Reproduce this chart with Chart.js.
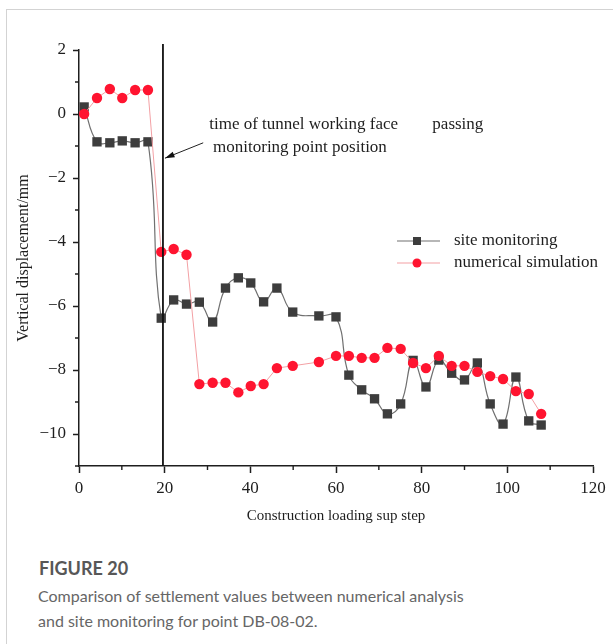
<!DOCTYPE html>
<html>
<head>
<meta charset="utf-8">
<script src="https://cdn.jsdelivr.net/npm/chart.js@4.4.1/dist/chart.umd.min.js"></script>
<style>
  body { margin: 0; background: #fff; overflow: hidden; }
  .card { position: absolute; left: 6px; top: 9px; width: 640px; height: 660px; border: 1px solid #d3d3d3; }
  #wrap { position: absolute; left: 0; top: 0; width: 613px; height: 540px; }
  .fig { position: absolute; left: 39px; top: 556px; font-family: Lato, sans-serif; color: #575757; font-size: 18px; font-weight: bold; line-height: 24px; }
  .cap { position: absolute; left: 38px; top: 583px; font-family: Lato, sans-serif; color: #666; font-size: 16px; line-height: 25px; width: 560px; }
</style>
</head>
<body>
<div class="card"></div>
<div id="wrap"><canvas id="chart" width="613" height="540"></canvas></div>
<div class="fig">FIGURE 20</div>
<div class="cap">Comparison of settlement values between numerical analysis<br>and site monitoring for point DB-08-02.</div>
<script>
// construction loading sub steps (x) and vertical displacement (mm)
const steps = [1.2, 4.2, 7.2, 10.1, 13.1, 16.1, 19.2, 22.1, 25.1, 28.1, 31.2, 34.2, 37.2, 40.1, 43.1, 46.2, 49.9,
  56, 60, 63, 66, 69, 72, 75.1, 78, 81, 84, 87, 90, 93, 96, 99, 102, 105, 107.9];
const siteMonitoring = [0.22, -0.87, -0.9, -0.84, -0.9, -0.87, -6.38, -5.81, -5.94, -5.88, -6.5, -5.44, -5.12, -5.28,
  -5.87, -5.44, -6.19, -6.31, -6.34, -8.16, -8.62, -8.9, -9.37, -9.06, -7.7, -8.53, -7.69, -8.1, -8.31, -7.78,
  -9.06, -9.69, -8.22, -9.59, -9.72];
const numericalSim = [0, 0.5, 0.78, 0.5, 0.75, 0.75, -4.31, -4.22, -4.4, -8.44, -8.4, -8.4, -8.7, -8.5,
  -8.44, -7.94, -7.87, -7.75, -7.56, -7.56, -7.62, -7.62, -7.31, -7.34, -7.78, -7.94, -7.56, -7.87, -7.87, -8.06,
  -8.19, -8.28, -8.66, -8.75, -9.37];

const xTicks = [0, 20, 40, 60, 80, 100, 120];
const xMinor = [10, 30, 50, 70, 90, 110];
const yTicks = [-10, -8, -6, -4, -2, 0, 2];
const yMinor = [-11, -9, -7, -5, -3, -1, 1];

const facePassStep = 19.6;
const noteLines = ['time of tunnel working face', 'passing', 'monitoring point position'];

const serif = 'Liberation Serif, Times New Roman, serif';
const ink = '#1e1e1e';
const fmt = v => (v < 0 ? '\u2212' + Math.abs(v) : String(v));

const extras = {
  id: 'extras',
  afterDraw(chart) {
    const { ctx, chartArea: a, scales: { x, y } } = chart;
    ctx.save();
    ctx.strokeStyle = ink;
    ctx.lineWidth = 1.4;
    ctx.beginPath();
    xMinor.forEach(v => {
      const px = x.getPixelForValue(v);
      ctx.moveTo(px, a.bottom);
      ctx.lineTo(px, a.bottom + 4);
    });
    yMinor.forEach(v => {
      const py = y.getPixelForValue(v);
      ctx.moveTo(a.left, py);
      ctx.lineTo(a.left - 4, py);
    });
    ctx.stroke();

    // working face passing line
    const fx = x.getPixelForValue(facePassStep);
    ctx.lineWidth = 1.8;
    ctx.strokeStyle = '#111';
    ctx.beginPath();
    ctx.moveTo(fx, a.top - 6);
    ctx.lineTo(fx, a.bottom);
    ctx.stroke();

    // arrow to the line
    const x0 = x.getPixelForValue(29), y0 = y.getPixelForValue(-0.9);
    const x1 = fx + 2, y1 = y.getPixelForValue(-1.38);
    const ang = Math.atan2(y1 - y0, x1 - x0);
    ctx.lineWidth = 1;
    ctx.strokeStyle = '#222';
    ctx.beginPath();
    ctx.moveTo(x0, y0);
    ctx.lineTo(x1, y1);
    ctx.stroke();
    ctx.fillStyle = '#111';
    ctx.beginPath();
    ctx.moveTo(x1, y1);
    ctx.lineTo(x1 - 10 * Math.cos(ang - 0.3), y1 - 10 * Math.sin(ang - 0.3));
    ctx.lineTo(x1 - 10 * Math.cos(ang + 0.3), y1 - 10 * Math.sin(ang + 0.3));
    ctx.closePath();
    ctx.fill();

    ctx.font = '17px ' + serif;
    ctx.fillStyle = ink;
    ctx.textBaseline = 'middle';
    ctx.fillText(noteLines[0], x.getPixelForValue(30.4), y.getPixelForValue(-0.34));
    ctx.textAlign = 'right';
    ctx.fillText(noteLines[1], x.getPixelForValue(94.4), y.getPixelForValue(-0.34));
    ctx.textAlign = 'left';
    ctx.fillText(noteLines[2], x.getPixelForValue(31.3), y.getPixelForValue(-1.06));

    // legend
    const lx = 397, ly = [241, 263];
    chart.data.datasets.forEach((ds, i) => {
      ctx.strokeStyle = ds.borderColor;
      ctx.lineWidth = 1.2;
      ctx.beginPath();
      ctx.moveTo(lx, ly[i]);
      ctx.lineTo(lx + 43, ly[i]);
      ctx.stroke();
      ctx.fillStyle = ds.pointBackgroundColor;
      ctx.beginPath();
      if (ds.pointStyle === 'rect') ctx.rect(lx + 16, ly[i] - 4, 8, 8);
      else ctx.arc(lx + 20, ly[i], 4.5, 0, Math.PI * 2);
      ctx.fill();
      ctx.fillStyle = ink;
      ctx.fillText(ds.label, lx + 57, ly[i]);
    });
    ctx.restore();
  }
};

const axisFont = { family: serif, size: 17 };

new Chart(document.getElementById('chart'), {
  type: 'scatter',
  data: {
    datasets: [
      {
        label: 'site monitoring',
        data: steps.map((s, i) => ({ x: s, y: siteMonitoring[i] })),
        showLine: true,
        borderColor: '#707070',
        borderWidth: 1.2,
        tension: 0.45,
        pointStyle: 'rect',
        pointRadius: 6.6,
        pointBackgroundColor: '#3d3d3d',
        pointBorderWidth: 0,
        order: 2,
      },
      {
        label: 'numerical simulation',
        data: steps.map((s, i) => ({ x: s, y: numericalSim[i] })),
        showLine: true,
        borderColor: '#f3a0a4',
        borderWidth: 1,
        tension: 0,
        pointStyle: 'circle',
        pointRadius: 5.2,
        pointBackgroundColor: '#ff1430',
        pointBorderWidth: 0,
        order: 1,
      },
    ],
  },
  options: {
    responsive: false,
    animation: false,
    layout: { padding: { top: 50, right: 20, left: 0, bottom: 0 } },
    plugins: { legend: { display: false }, tooltip: { enabled: false } },
    scales: {
      x: {
        type: 'linear',
        min: 0,
        max: 120,
        afterBuildTicks: s => { s.ticks = xTicks.map(v => ({ value: v })); },
        afterFit: s => { s.height = 74; },
        ticks: { color: ink, font: axisFont, padding: 5, maxRotation: 0 },
        grid: { drawOnChartArea: false, tickLength: 7, tickColor: ink, tickWidth: 1.5 },
        border: { color: ink, width: 1.5 },
        title: { display: true, text: 'Construction loading sup step', color: ink, font: { family: serif, size: 15 }, padding: { top: 0, bottom: 15 } },
      },
      y: {
        min: -11,
        max: 2,
        afterBuildTicks: s => { s.ticks = yTicks.map(v => ({ value: v })); },
        afterFit: s => { s.width = 79; },
        ticks: { color: ink, font: axisFont, padding: 7, callback: v => fmt(v) },
        grid: { drawOnChartArea: false, tickLength: 6, tickColor: ink, tickWidth: 1.5 },
        border: { color: ink, width: 1.5 },
        title: { display: true, text: 'Vertical displacement/mm', color: ink, font: { family: serif, size: 16 }, padding: { top: 14, bottom: 0 } },
      },
    },
  },
  plugins: [extras],
});
</script>
</body>
</html>
